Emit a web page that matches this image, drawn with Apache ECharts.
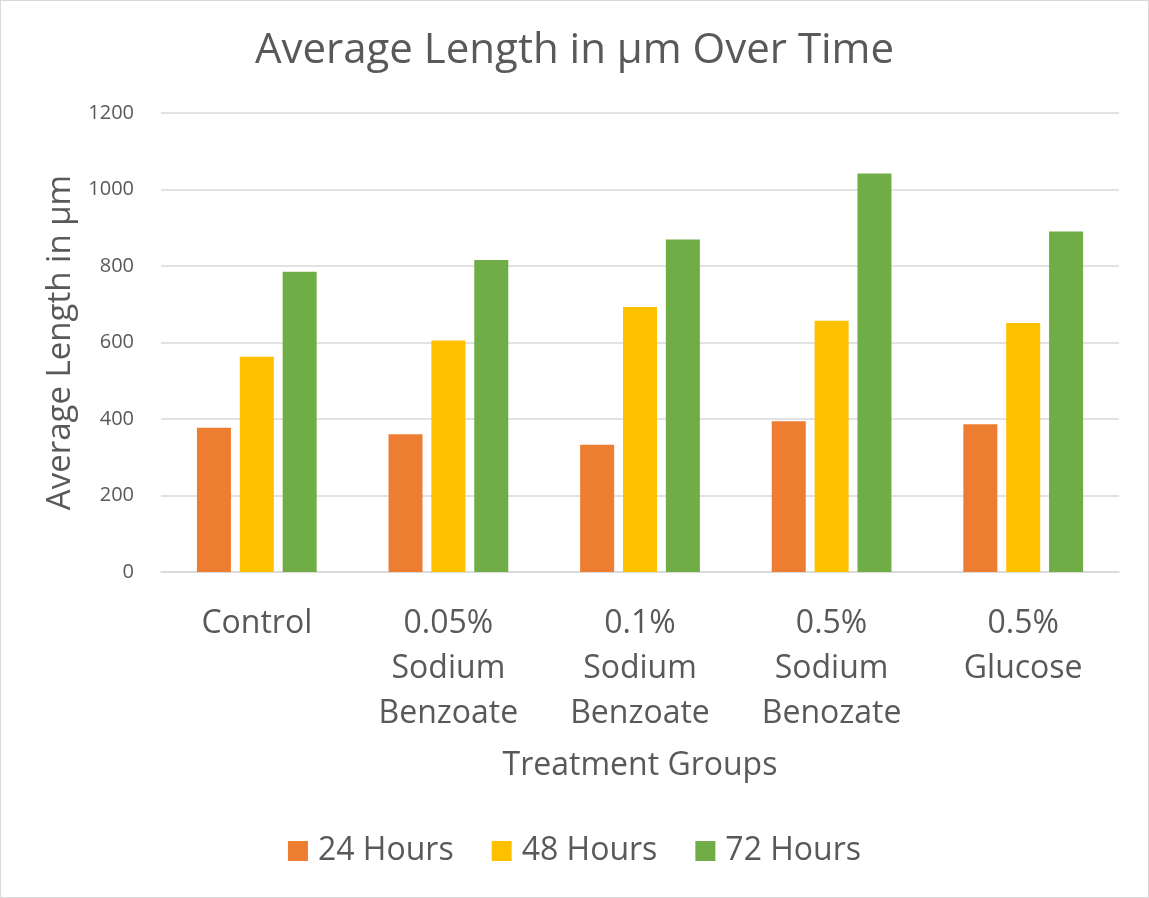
<!DOCTYPE html>
<html>
<head>
<meta charset="utf-8">
<script src="https://cdn.jsdelivr.net/npm/echarts@6/dist/echarts.min.js"></script>
<style>
  html, body { margin: 0; padding: 0; background: #fff; }
  #chart { width: 1149px; height: 898px; box-sizing: border-box; border: 1px solid #d9d9d9; }
</style>
</head>
<body>
<div id="chart"></div>
<script>
// treatment groups on the x axis
const groups = ['Control', '0.05%\nSodium\nBenzoate', '0.1%\nSodium\nBenzoate', '0.5%\nSodium\nBenozate', '0.5%\nGlucose']
const hours24 = [377, 360, 333, 394, 386]
const hours48 = [563, 605, 693, 657, 651]
const hours72 = [785, 816, 869, 1042, 890]
const seriesNames = ['24 Hours', '48 Hours', '72 Hours']
const colors = ['#ED7D31', '#FFC000', '#70AD47']

const font = '"Open Sans", "Noto Sans", sans-serif'
const textColor = '#595959'

let chart = echarts.init(document.getElementById('chart'))

let option = {
  animation: false,
  color: colors,
  textStyle: { fontFamily: font },
  title: {
    text: 'Average Length in µm Over Time',
    left: 'center',
    top: 24,
    textStyle: { fontSize: 42, fontWeight: 'normal', color: textColor, fontFamily: font }
  },
  legend: {
    data: seriesNames,
    bottom: 25,
    left: 'center',
    itemWidth: 20,
    itemHeight: 20,
    itemGap: 38,
    icon: 'rect',
    textStyle: { fontSize: 32, color: textColor, fontFamily: font, padding: [0, 0, 0, 5] }
  },
  grid: { left: 160, right: 29, top: 112, bottom: 325 },
  xAxis: {
    type: 'category',
    data: groups,
    name: 'Treatment Groups',
    nameLocation: 'middle',
    nameGap: 178,
    nameTextStyle: { fontSize: 32, color: textColor, fontFamily: font },
    axisLine: { lineStyle: { color: '#d9d9d9', width: 1.5 } },
    axisTick: { show: false },
    axisLabel: {
      fontSize: 32,
      color: textColor,
      lineHeight: 45,
      margin: 29,
      interval: 0,
      fontFamily: font
    }
  },
  yAxis: {
    type: 'value',
    min: 0,
    max: 1200,
    interval: 200,
    name: 'Average Length in µm',
    nameLocation: 'middle',
    nameGap: 82,
    nameTextStyle: { fontSize: 33, color: textColor, fontFamily: font },
    axisLine: { show: false },
    axisTick: { show: false },
    axisLabel: {
      fontSize: 20,
      color: textColor,
      margin: 27,
      fontFamily: font,
      formatter: v => String(v)
    },
    splitLine: { lineStyle: { color: '#d9d9d9', width: 1.5 } }
  },
  series: [
    { name: seriesNames[0], type: 'bar', data: hours24, barGap: '26%', barCategoryGap: '37.5%' },
    { name: seriesNames[1], type: 'bar', data: hours48, barGap: '26%', barCategoryGap: '37.5%' },
    { name: seriesNames[2], type: 'bar', data: hours72, barGap: '26%', barCategoryGap: '37.5%' }
  ]
}

chart.setOption(option)
</script>
</body>
</html>
